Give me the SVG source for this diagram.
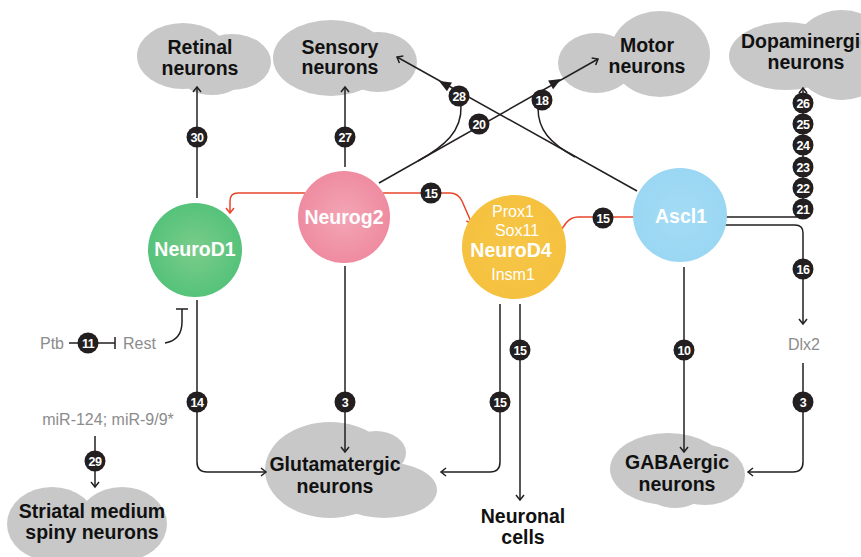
<svg xmlns="http://www.w3.org/2000/svg" width="861" height="557" viewBox="0 0 861 557">
<style>
.cloud{fill:#c8c8c8}
.ct{font-family:"Liberation Sans",Arial,sans-serif;font-weight:bold;font-size:19.5px;fill:#111;text-anchor:middle}
.nt{font-family:"Liberation Sans",Arial,sans-serif;font-weight:bold;font-size:19.5px;fill:#fff;text-anchor:middle}
.st{font-family:"Liberation Sans",Arial,sans-serif;font-size:16px;fill:#fff;text-anchor:middle}
.gt{font-family:"Liberation Sans",Arial,sans-serif;font-size:16px;fill:#8c8c8c}
.ln{fill:none;stroke:#231f20;stroke-width:1.5}
.rd{fill:none;stroke:#e8452a;stroke-width:1.5}
.b circle{fill:#231f20}
.b text{font-family:"Liberation Sans",Arial,sans-serif;font-weight:bold;font-size:12.5px;fill:#fff;text-anchor:middle;letter-spacing:-0.5px}
</style>
<defs>
<marker id="arr" viewBox="-7 -6 9 12" markerWidth="9" markerHeight="12" refX="0" refY="0" orient="auto" markerUnits="userSpaceOnUse"><path d="M-5,-4 L0,0 L-5,4" fill="none" stroke="#231f20" stroke-width="1.5"/></marker>
<marker id="arrR" viewBox="-7 -6 9 12" markerWidth="9" markerHeight="12" refX="0" refY="0" orient="auto" markerUnits="userSpaceOnUse"><path d="M-5,-4 L0,0 L-5,4" fill="none" stroke="#e8452a" stroke-width="1.5"/></marker>
<radialGradient id="gPink"><stop offset="0" stop-color="#f3a6b6"/><stop offset="1" stop-color="#ef8ba0"/></radialGradient>
<radialGradient id="gGreen"><stop offset="0" stop-color="#7bcd8b"/><stop offset="1" stop-color="#55c27a"/></radialGradient>
<radialGradient id="gYellow"><stop offset="0" stop-color="#f7c647"/><stop offset="1" stop-color="#f5c13f"/></radialGradient>
<radialGradient id="gBlue"><stop offset="0" stop-color="#a3dbf4"/><stop offset="1" stop-color="#9ad7f3"/></radialGradient>
</defs>

<g id="retinal">
<ellipse class="cloud" cx="183" cy="56" rx="46" ry="33"/>
<ellipse class="cloud" cx="232" cy="62" rx="39" ry="28"/>
<ellipse class="cloud" cx="212" cy="78" rx="30" ry="17"/>
<text class="ct" x="200" y="54">Retinal</text>
<text class="ct" x="200" y="75">neurons</text>
</g>
<g id="sensory">
<ellipse class="cloud" cx="331" cy="58" rx="58" ry="38"/>
<ellipse class="cloud" cx="378" cy="62" rx="39" ry="30"/>
<text class="ct" x="340" y="54">Sensory</text>
<text class="ct" x="340" y="74">neurons</text>
</g>
<g id="motor">
<ellipse class="cloud" cx="660" cy="54" rx="50" ry="43"/>
<ellipse class="cloud" cx="596" cy="63" rx="38" ry="30"/>
<text class="ct" x="647" y="52">Motor</text>
<text class="ct" x="647" y="73">neurons</text>
</g>
<g id="dopaminergic">
<ellipse class="cloud" cx="786" cy="56" rx="57" ry="34"/>
<ellipse class="cloud" cx="842" cy="55" rx="50" ry="45"/>
<text class="ct" x="806" y="48">Dopaminergic</text>
<text class="ct" x="806" y="69">neurons</text>
</g>
<g id="glutamatergic">
<ellipse class="cloud" cx="330" cy="470" rx="65" ry="48"/>
<ellipse class="cloud" cx="384" cy="490" rx="53" ry="28"/>
<ellipse class="cloud" cx="376" cy="453" rx="30" ry="22"/>
<text class="ct" x="335" y="471">Glutamatergic</text>
<text class="ct" x="335" y="493">neurons</text>
</g>
<g id="gabaergic">
<ellipse class="cloud" cx="668" cy="469" rx="58" ry="36"/>
<ellipse class="cloud" cx="705" cy="475" rx="40" ry="30"/>
<ellipse class="cloud" cx="675" cy="495" rx="25" ry="13"/>
<text class="ct" x="677" y="469">GABAergic</text>
<text class="ct" x="677" y="491">neurons</text>
</g>
<g id="striatal">
<ellipse class="cloud" cx="52" cy="524" rx="45" ry="37"/>
<ellipse class="cloud" cx="122" cy="524" rx="45" ry="37"/>
<ellipse class="cloud" cx="88" cy="535" rx="60" ry="26"/>
<text class="ct" x="92" y="518">Striatal medium</text>
<text class="ct" x="92" y="539">spiny neurons</text>
</g>
<g id="neuronal">
<text class="ct" x="523" y="523">Neuronal</text>
<text class="ct" x="523" y="544">cells</text>
</g>
<g id="ptb"><text class="gt" x="40" y="349">Ptb</text></g>
<g id="rest"><text class="gt" x="123" y="349">Rest</text></g>
<g id="mir"><text class="gt" x="108" y="425" text-anchor="middle">miR-124; miR-9/9*</text></g>
<g id="dlx2"><text class="gt" x="804" y="350" text-anchor="middle">Dlx2</text></g>

<g id="connectors">
<path class="ln" d="M197,198 V87" marker-end="url(#arr)"/>
<path class="ln" d="M345,167 V87" marker-end="url(#arr)"/>
<path class="ln" d="M379,183 L598,59" marker-end="url(#arr)"/>
<path class="ln" d="M637,191 L397,57" marker-end="url(#arr)"/>
<path class="ln" d="M418,161 C445,146 462,131 461,106"/>
<path class="ln" d="M575,157 C550,143 538,130 538,108"/>
<polygon points="439,81 452,82.4 447,91.2" fill="#231f20"/>
<polygon points="561,79 553.1,89.2 548.1,80.6" fill="#231f20"/>
<path class="rd" d="M305,193 H238 Q230,193 230,201 V213" marker-end="url(#arrR)"/>
<path class="rd" d="M383,193 H450 Q458,193 462,201 L472,224" marker-end="url(#arrR)"/>
<path class="rd" d="M634,217 H578 Q571,217 566,223 L557,236" marker-end="url(#arrR)"/>
<path class="ln" d="M722,217 H797 Q803,217 803,211 V88" marker-end="url(#arr)"/>
<path class="ln" d="M722,225 H795 Q803,225 803,233 V324" marker-end="url(#arr)"/>
<path class="ln" d="M803,363 V462 Q803,472 793,472 H748" marker-end="url(#arr)"/>
<path class="ln" d="M684,267 V452" marker-end="url(#arr)"/>
<path class="ln" d="M345,266 V452" marker-end="url(#arr)"/>
<path class="ln" d="M197,300 V462 Q197,472 207,472 H266" marker-end="url(#arr)"/>
<path class="ln" d="M500,304 V462 Q500,472 490,472 H441" marker-end="url(#arr)"/>
<path class="ln" d="M520,304 V500" marker-end="url(#arr)"/>
<path class="ln" d="M95,436 V487" marker-end="url(#arr)"/>
<path class="ln" d="M69,343 H115 M115,337 V349"/>
<path class="ln" d="M165,343 C176,341 182,335 182,322 V309 M176,309 H188"/>
<g class="b">
<circle cx="197" cy="137" r="10.5"/><text x="197" y="141.5">30</text>
<circle cx="345" cy="137" r="10.5"/><text x="345" y="141.5">27</text>
<circle cx="459" cy="96" r="10.5"/><text x="459" y="100.5">28</text>
<circle cx="479" cy="124" r="10.5"/><text x="479" y="128.5">20</text>
<circle cx="542" cy="100" r="10.5"/><text x="542" y="104.5">18</text>
<circle cx="431" cy="193" r="10.5"/><text x="431" y="197.5">15</text>
<circle cx="603" cy="218" r="10.5"/><text x="603" y="222.5">15</text>
<circle cx="803" cy="103" r="10.5"/><text x="803" y="107.5">26</text>
<circle cx="803" cy="124" r="10.5"/><text x="803" y="128.5">25</text>
<circle cx="803" cy="145" r="10.5"/><text x="803" y="149.5">24</text>
<circle cx="803" cy="167" r="10.5"/><text x="803" y="171.5">23</text>
<circle cx="803" cy="188" r="10.5"/><text x="803" y="192.5">22</text>
<circle cx="803" cy="209" r="10.5"/><text x="803" y="213.5">21</text>
<circle cx="803" cy="269" r="10.5"/><text x="803" y="273.5">16</text>
<circle cx="803" cy="402" r="10.5"/><text x="803" y="406.5">3</text>
<circle cx="684" cy="350" r="10.5"/><text x="684" y="354.5">10</text>
<circle cx="520" cy="350" r="10.5"/><text x="520" y="354.5">15</text>
<circle cx="500" cy="402" r="10.5"/><text x="500" y="406.5">15</text>
<circle cx="345" cy="402" r="10.5"/><text x="345" y="406.5">3</text>
<circle cx="197" cy="402" r="10.5"/><text x="197" y="406.5">14</text>
<circle cx="88" cy="343" r="10.5"/><text x="88" y="347.5">11</text>
<circle cx="95" cy="461" r="10.5"/><text x="95" y="465.5">29</text>
</g>
</g>

<g id="neurod1">
<circle cx="195" cy="250" r="47" fill="url(#gGreen)"/>
<text class="nt" x="195" y="256">NeuroD1</text>
</g>
<g id="neurog2">
<circle cx="344" cy="217" r="46" fill="url(#gPink)"/>
<text class="nt" x="344" y="224">Neurog2</text>
</g>
<g id="neurod4">
<circle cx="514" cy="247" r="52" fill="url(#gYellow)"/>
<text class="st" x="513" y="217">Prox1</text>
<text class="st" x="517" y="236">Sox11</text>
<text class="nt" x="511" y="257">NeuroD4</text>
<text class="st" x="513" y="280">Insm1</text>
</g>
<g id="ascl1">
<circle cx="680" cy="215" r="47" fill="url(#gBlue)"/>
<text class="nt" x="681" y="223">Ascl1</text>
</g>
</svg>
